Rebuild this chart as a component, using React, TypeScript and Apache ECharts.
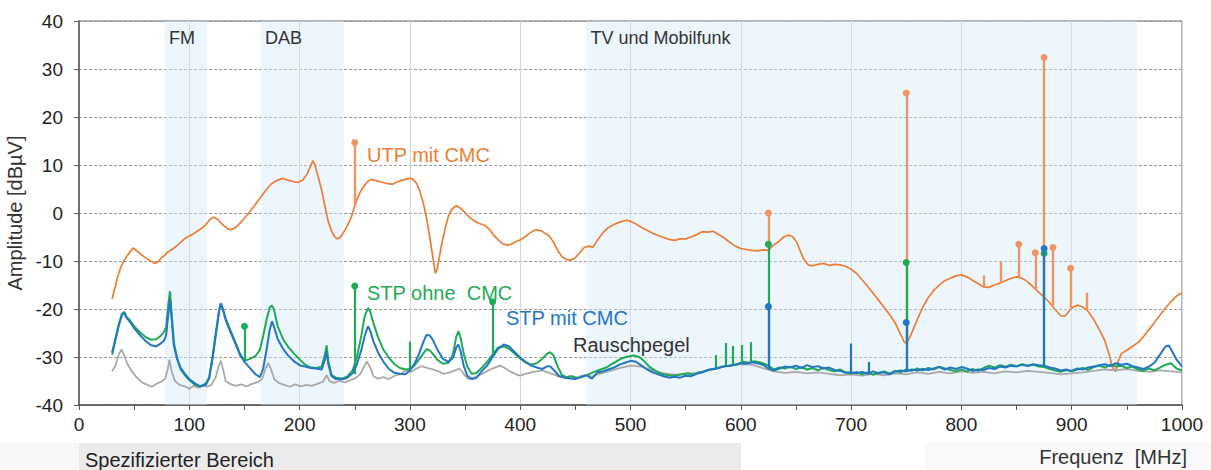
import React, { useEffect, useRef } from "react";
import * as echarts from "echarts";

// ---- Data (frequency MHz, amplitude dBµV) ----
const utpMitCmc: [number, number][] = [
  [30,-17.9],[33,-15.2],[35,-13.3],[38,-11.2],[40,-10.3],[43,-9.1],[46,-8.2],[49,-7.3],[52,-7.8],[55,-8.4],[60,-9.3],[65,-10.0],[69,-10.5],[72,-10.1],[75,-9.2],[78,-8.8],[80,-8.2],[85,-7.5],[90,-6.6],[95,-5.5],[99,-4.9],[104,-4.3],[110,-3.4],[115,-2.4],[119,-1.3],[122,-0.9],[125,-1.2],[130,-2.4],[135,-3.3],[138,-3.5],[142,-3.0],[146,-2.1],[150,-1.1],[155,0.3],[160,1.8],[165,3.4],[170,4.9],[174,6.0],[178,6.6],[182,7.0],[185,7.2],[190,6.8],[195,6.5],[199,6.4],[203,6.9],[207,8.2],[210,9.8],[212,10.9],[214,10.0],[217,7.4],[220,4.8],[223,1.4],[226,-1.8],[229,-3.8],[232,-5.0],[234,-5.4],[237,-5.0],[240,-4.0],[243,-2.8],[247,-0.8],[250,1.5],[253,3.4],[256,4.8],[259,5.8],[262,6.6],[265,7.0],[270,6.7],[275,6.4],[280,6.1],[284,6.0],[288,6.4],[292,6.8],[296,7.0],[300,7.2],[303,7.0],[306,6.2],[309,4.6],[312,2.2],[315,-1.0],[318,-5.0],[321,-9.5],[323,-12.6],[325,-11.5],[327,-8.8],[329,-6.3],[332,-3.2],[335,-0.6],[338,0.8],[342,1.5],[346,1.0],[350,0.1],[354,-0.9],[358,-1.6],[363,-2.2],[368,-2.6],[372,-3.4],[376,-4.6],[380,-5.6],[384,-6.4],[388,-6.7],[392,-6.5],[396,-6.0],[400,-5.6],[404,-5.0],[408,-4.3],[412,-3.7],[415,-3.5],[419,-3.7],[423,-4.3],[426,-4.7],[430,-6.0],[434,-7.8],[438,-9.1],[442,-9.7],[446,-9.8],[450,-9.3],[454,-8.3],[458,-7.2],[462,-6.9],[466,-7.1],[470,-5.7],[475,-4.1],[480,-3.0],[485,-2.4],[490,-1.9],[496,-1.5],[500,-1.7],[505,-2.3],[510,-3.0],[515,-3.6],[520,-4.2],[525,-4.7],[530,-5.1],[535,-5.5],[540,-5.7],[545,-5.4],[550,-5.4],[555,-5.0],[560,-4.5],[565,-3.9],[570,-4.0],[575,-3.8],[580,-4.5],[585,-5.2],[590,-6.1],[595,-6.9],[600,-7.4],[605,-7.6],[610,-7.8],[615,-7.9],[620,-7.7],[625,-7.8],[629,-6.8],[634,-6.0],[639,-5.0],[643,-4.6],[647,-4.9],[651,-6.2],[654,-8.0],[657,-9.6],[661,-10.8],[665,-11.0],[670,-10.7],[675,-10.5],[680,-10.9],[685,-10.7],[690,-10.8],[695,-11.1],[700,-11.7],[705,-12.6],[710,-13.9],[715,-15.3],[720,-16.7],[725,-18.2],[730,-19.7],[735,-21.2],[740,-22.9],[745,-25.4],[748,-26.8],[750,-27.2],[753,-26.0],[756,-24.4],[760,-22.2],[765,-19.6],[770,-17.6],[775,-16.1],[780,-15.0],[785,-14.1],[790,-13.6],[795,-13.1],[800,-12.9],[805,-13.3],[810,-14.0],[815,-14.7],[820,-15.4],[825,-15.5],[830,-15.0],[835,-14.6],[840,-14.1],[845,-13.6],[850,-13.3],[855,-13.6],[860,-14.3],[865,-15.4],[870,-16.5],[875,-17.5],[880,-18.7],[885,-20.1],[890,-21.4],[894,-21.5],[898,-20.3],[902,-19.5],[906,-19.2],[910,-19.6],[915,-20.5],[920,-22.2],[925,-24.3],[930,-26.6],[934,-29.5],[937,-32.2],[940,-33.0],[942,-31.0],[945,-29.3],[950,-28.6],[955,-27.8],[960,-27.0],[965,-25.8],[970,-24.3],[975,-22.8],[980,-21.3],[985,-19.8],[990,-18.5],[995,-17.3],[1000,-16.6]
];

const stpOhneCmc: [number, number][] = [
  [30,-29.0],[33,-26.2],[36,-23.2],[39,-21.0],[41,-20.6],[43,-21.6],[46,-22.3],[50,-23.6],[55,-24.8],[60,-25.8],[65,-26.4],[70,-26.3],[74,-25.6],[77,-24.8],[79,-23.8],[81,-19.0],[82.5,-16.3],[84,-21.0],[86,-27.0],[89,-30.2],[92,-32.5],[96,-33.8],[100,-34.8],[105,-35.8],[110,-36.2],[115,-35.5],[118,-34.2],[121,-30.0],[124,-25.0],[127,-20.3],[128.5,-18.9],[130,-19.6],[133,-22.0],[137,-24.3],[141,-26.5],[146,-29.3],[150,-30.8],[155,-30.4],[160,-29.8],[164,-28.5],[167,-25.6],[170,-22.3],[173,-19.6],[175,-19.3],[177,-20.3],[180,-23.5],[185,-26.3],[190,-28.0],[195,-29.3],[200,-30.5],[205,-31.6],[210,-32.2],[215,-32.3],[220,-32.0],[223,-29.5],[224.5,-27.6],[226,-30.8],[229,-33.8],[233,-34.3],[238,-34.5],[243,-34.1],[248,-32.8],[252,-30.0],[256,-25.5],[259,-21.5],[262,-19.8],[264,-20.5],[267,-23.0],[271,-25.8],[276,-28.5],[281,-30.2],[286,-31.5],[291,-32.3],[296,-32.6],[300,-32.5],[304,-31.8],[308,-30.6],[312,-29.3],[315,-28.4],[318,-28.6],[321,-29.4],[325,-30.6],[330,-31.4],[335,-31.2],[339,-29.5],[342,-25.8],[344,-24.6],[346,-26.0],[349,-29.5],[352,-32.0],[356,-33.5],[360,-33.4],[365,-32.3],[370,-31.0],[375,-29.5],[380,-28.0],[385,-27.8],[390,-28.3],[395,-29.3],[400,-30.3],[405,-31.2],[410,-31.6],[415,-31.3],[420,-30.4],[424,-29.4],[427,-29.0],[430,-29.6],[434,-32.0],[438,-33.8],[442,-34.2],[447,-34.0],[452,-34.4],[458,-34.0],[463,-33.5],[468,-33.0],[473,-32.6],[478,-32.2],[483,-31.5],[488,-30.8],[493,-30.2],[498,-29.9],[503,-29.7],[508,-30.0],[512,-30.8],[517,-32.0],[522,-32.8],[527,-33.4],[532,-33.7],[537,-33.9],[542,-33.8],[547,-33.6],[552,-33.4],[557,-33.7],[562,-33.2],[567,-33.0],[572,-32.6],[577,-32.5],[582,-32.1],[587,-31.9],[592,-31.7],[597,-31.5],[602,-31.0],[607,-31.2],[612,-30.9],[617,-31.1],[621,-31.4],[625,-31.8],[630,-32.6],[635,-32.2],[640,-32.4],[645,-32.0],[650,-32.5],[655,-32.1],[660,-32.6],[665,-32.3],[670,-32.8],[675,-32.2],[680,-32.7],[685,-33.0],[690,-32.6],[695,-33.2],[700,-33.5],[705,-33.1],[710,-33.6],[715,-33.2],[720,-33.7],[725,-33.3],[730,-33.0],[735,-33.4],[740,-32.9],[745,-33.2],[750,-32.6],[755,-32.9],[760,-32.4],[765,-32.8],[770,-32.3],[775,-32.6],[780,-32.0],[785,-32.4],[790,-32.7],[795,-33.0],[800,-32.6],[805,-33.0],[810,-32.5],[815,-32.9],[820,-32.3],[825,-31.8],[830,-32.2],[835,-31.7],[840,-32.0],[845,-31.6],[850,-31.9],[855,-31.5],[860,-31.8],[865,-31.6],[870,-32.0],[875,-32.1],[880,-32.5],[885,-32.8],[890,-33.1],[895,-32.7],[900,-33.0],[905,-32.6],[910,-32.3],[915,-32.7],[920,-32.1],[925,-31.8],[930,-32.2],[935,-31.6],[940,-32.0],[945,-31.8],[950,-32.3],[955,-32.0],[960,-32.6],[965,-32.9],[970,-32.4],[975,-32.8],[980,-32.2],[985,-31.6],[990,-31.3],[995,-32.4],[1000,-32.8]
];

const stpMitCmc: [number, number][] = [
  [30,-29.5],[33,-26.5],[36,-23.5],[39,-21.2],[41,-20.8],[43,-21.8],[46,-22.6],[50,-24.0],[55,-25.4],[60,-26.6],[65,-27.5],[70,-27.8],[74,-27.2],[77,-26.6],[79,-25.5],[81,-21.0],[82.5,-18.0],[84,-22.0],[86,-27.5],[89,-30.5],[92,-32.2],[96,-33.5],[100,-34.6],[105,-35.5],[110,-36.1],[115,-35.8],[118,-34.5],[121,-30.5],[124,-25.5],[127,-20.5],[128.5,-18.8],[130,-19.8],[133,-22.3],[137,-24.6],[141,-26.8],[146,-29.6],[150,-31.0],[155,-32.3],[160,-33.6],[164,-34.2],[167,-32.4],[170,-28.5],[173,-24.2],[175,-22.6],[177,-23.8],[180,-26.2],[185,-28.3],[190,-29.8],[195,-30.9],[200,-31.7],[205,-32.0],[210,-32.3],[215,-32.4],[220,-32.6],[223,-30.5],[224.5,-28.8],[226,-31.5],[229,-34.0],[233,-34.6],[238,-34.7],[243,-34.4],[248,-33.4],[252,-31.5],[256,-28.5],[259,-25.6],[262,-23.6],[264,-24.5],[267,-26.8],[271,-29.0],[276,-31.0],[281,-32.5],[286,-33.3],[291,-33.5],[296,-33.6],[300,-32.8],[304,-31.5],[308,-29.5],[312,-27.0],[315,-25.4],[318,-25.5],[321,-26.5],[325,-28.5],[330,-30.4],[335,-31.0],[339,-30.2],[342,-28.0],[344,-27.4],[346,-28.8],[349,-32.0],[352,-33.9],[356,-34.6],[360,-34.4],[365,-33.0],[370,-31.8],[375,-30.0],[380,-28.3],[385,-27.4],[390,-27.8],[395,-29.0],[400,-30.1],[405,-31.0],[410,-31.8],[415,-32.2],[420,-32.5],[424,-32.0],[427,-31.9],[430,-32.6],[435,-33.9],[440,-34.3],[445,-34.5],[450,-34.6],[455,-34.2],[460,-33.8],[465,-34.5],[470,-33.2],[475,-33.0],[480,-32.6],[485,-32.2],[490,-31.6],[495,-31.2],[500,-30.8],[505,-31.0],[510,-31.8],[515,-32.6],[520,-33.2],[525,-33.6],[530,-34.0],[535,-34.3],[540,-34.1],[545,-34.3],[550,-33.9],[555,-34.0],[560,-33.5],[565,-33.2],[570,-32.7],[575,-32.5],[580,-32.3],[585,-31.9],[590,-31.8],[595,-31.6],[600,-31.3],[605,-31.4],[610,-31.1],[615,-31.3],[620,-31.6],[625,-32.4],[630,-32.8],[635,-32.4],[640,-32.0],[645,-32.2],[650,-31.8],[655,-32.3],[660,-31.7],[665,-32.1],[670,-31.9],[675,-32.4],[680,-32.2],[685,-32.7],[690,-32.9],[695,-33.3],[700,-33.2],[705,-33.4],[710,-33.1],[715,-33.5],[720,-33.0],[725,-33.4],[730,-33.2],[735,-33.6],[740,-33.0],[745,-32.8],[750,-33.0],[755,-32.6],[760,-32.8],[765,-32.5],[770,-32.7],[775,-32.4],[780,-32.1],[785,-32.6],[790,-32.2],[795,-32.5],[800,-32.1],[805,-32.4],[810,-32.9],[815,-32.6],[820,-32.7],[825,-32.3],[830,-32.5],[835,-32.0],[840,-32.2],[845,-31.8],[850,-32.0],[855,-31.6],[860,-31.9],[865,-31.5],[870,-31.7],[875,-31.8],[880,-32.2],[885,-32.4],[890,-32.8],[895,-32.6],[900,-32.9],[905,-32.4],[910,-32.6],[915,-32.2],[920,-32.0],[925,-31.7],[930,-31.5],[935,-31.9],[940,-31.3],[945,-31.6],[950,-31.4],[955,-31.9],[960,-32.2],[965,-32.5],[970,-32.0],[975,-31.2],[980,-29.5],[985,-27.8],[988,-27.6],[991,-28.8],[995,-30.5],[1000,-32.0]
];

const rauschpegel: [number, number][] = [
  [30,-33.0],[33,-31.8],[36,-29.5],[38.5,-28.4],[41,-29.6],[44,-31.5],[48,-33.0],[52,-34.2],[57,-35.3],[62,-35.8],[66,-36.2],[70,-35.6],[74,-35.2],[78,-34.6],[80.5,-32.5],[82,-30.6],[84,-33.0],[87,-35.0],[91,-35.8],[96,-36.1],[100,-36.6],[104,-36.0],[108,-36.4],[112,-35.9],[116,-36.2],[120,-35.8],[124,-34.2],[126.5,-32.0],[128.5,-30.8],[130.5,-32.5],[133,-35.0],[137,-35.6],[142,-36.0],[147,-35.7],[152,-36.1],[157,-35.6],[162,-35.2],[166,-34.6],[169,-32.5],[171.5,-31.2],[174,-32.5],[177,-34.6],[181,-35.4],[186,-35.8],[191,-36.2],[196,-35.7],[201,-36.1],[206,-35.8],[211,-36.0],[216,-35.6],[221,-35.2],[224.5,-33.8],[227,-35.0],[231,-35.4],[236,-35.0],[241,-35.3],[246,-34.8],[251,-34.4],[255,-33.5],[258,-32.2],[261,-30.9],[264,-32.2],[267,-34.0],[271,-34.5],[276,-34.2],[281,-34.6],[286,-33.9],[291,-33.6],[296,-32.8],[301,-33.1],[306,-32.4],[311,-31.9],[316,-32.3],[321,-32.6],[326,-33.0],[331,-33.5],[336,-33.2],[341,-32.8],[345,-32.4],[349,-33.6],[353,-34.6],[358,-34.3],[363,-33.8],[368,-33.2],[373,-32.6],[378,-32.1],[382,-31.8],[386,-32.3],[391,-33.0],[396,-33.6],[400,-33.9],[405,-33.5],[410,-33.2],[415,-33.0],[420,-32.8],[425,-33.2],[430,-33.6],[435,-34.1],[440,-34.3],[445,-34.0],[450,-34.4],[455,-34.0],[460,-33.7],[465,-34.1],[470,-33.6],[480,-33.0],[490,-32.3],[500,-31.8],[510,-32.0],[520,-32.8],[530,-33.4],[540,-33.7],[550,-33.5],[560,-33.3],[570,-32.8],[580,-32.2],[590,-31.8],[600,-31.5],[610,-31.6],[620,-32.3],[630,-33.0],[640,-33.3],[650,-33.1],[660,-33.4],[670,-33.2],[680,-33.5],[690,-33.8],[700,-33.6],[710,-33.9],[720,-33.5],[730,-33.8],[740,-33.4],[750,-33.6],[760,-33.2],[770,-33.5],[780,-33.1],[790,-33.4],[800,-33.0],[810,-33.3],[820,-33.1],[830,-33.4],[840,-33.0],[850,-33.2],[860,-32.9],[870,-33.1],[880,-33.3],[890,-33.6],[900,-33.4],[910,-33.2],[920,-32.9],[930,-32.6],[940,-32.8],[950,-32.5],[960,-32.9],[970,-33.1],[980,-32.8],[990,-33.0],[1000,-33.2]
];

// Spikes: [frequency, base, top]
const utpSpikesDot: [number, number, number][] = [[250,1.5,14.7],[625,-7.8,0.0],[750,-27.2,25.0],[852,-13.4,-6.5],[867,-15.9,-8.3],[875,-17.5,32.4],[883,-19.5,-7.2],[899,-20.1,-11.5]];
const utpSpikesPlain: [number, number, number][] = [[820,-15.4,-13.0],[836,-14.5,-10.1],[914,-20.3,-16.6]];
const ohneSpikesDot: [number, number, number][] = [[150,-30.8,-23.6],[250,-33.6,-15.2],[375,-29.5,-18.5],[625,-31.8,-6.5],[750,-32.6,-10.3],[875,-32.1,-8.4]];
const ohneSpikesPlain: [number, number, number][] = [[300,-32.5,-26.8],[577,-32.4,-29.6],[586,-32.0,-27.1],[593,-31.7,-27.7],[601,-31.2,-27.5],[609,-31.0,-26.9]];
const mitSpikesDot: [number, number, number][] = [[625,-32.4,-19.5],[750,-33.0,-22.8],[875,-31.8,-7.4]];
const mitSpikesPlain: [number, number, number][] = [[700,-33.2,-27.2],[716,-33.4,-31.0]];

// Frequency bands
const bandNames = ["FM", "DAB", "TV und Mobilfunk"];
const bandStart = [78, 165, 460];
const bandEnd = [116, 240, 959];

const FONT = "'Liberation Sans', Arial, Helvetica, sans-serif";
const C_UTP = "#EC7E34";
const C_UTP_SPIKE = "#EE9660";
const C_OHNE = "#1FAA55";
const C_MIT = "#2276C4";
const C_RAUSCH = "#A9A9A9";

function spikeData(dot: [number, number, number][], plain: [number, number, number][]) {
  return [
    ...dot.map(([f, b, t]) => [
      { coord: [f, b], symbol: "none" },
      { coord: [f, t], symbol: "circle", symbolSize: 7 },
    ]),
    ...plain.map(([f, b, t]) => [
      { coord: [f, b], symbol: "none" },
      { coord: [f, t], symbol: "none" },
    ]),
  ];
}

function spikeMark(color: string, width: number, dot: [number, number, number][], plain: [number, number, number][]) {
  return {
    silent: true,
    animation: false,
    symbol: ["none", "circle"],
    symbolSize: 7,
    label: { show: false },
    emphasis: { disabled: true },
    itemStyle: { color },
    lineStyle: { color, width, type: "solid", opacity: 1 },
    data: spikeData(dot, plain),
  };
}

export default function App() {
  const ref = useRef<HTMLDivElement>(null);
  useEffect(() => {
    const chart = echarts.init(ref.current!, null, { renderer: "svg" });
    const textStyleBase = { fontFamily: FONT, verticalAlign: "middle", align: "left" };
    const option: any = {
      animation: false,
      textStyle: { fontFamily: FONT },
      grid: {
        left: 79, right: 29, top: 21, bottom: 65,
        containLabel: false, outerBoundsMode: "none",
        show: true, borderColor: "#6a6a6a", borderWidth: 1,
      },
      xAxis: {
        type: "value",
        min: 0,
        max: 1000,
        interval: 100,
        axisLine: { show: true, onZero: false, lineStyle: { color: "#555", width: 1.5 } },
        axisTick: { show: true, length: 5, lineStyle: { color: "#555" } },
        minorTick: { show: true, splitNumber: 2, length: 5, lineStyle: { color: "#555" } },
        axisLabel: { fontSize: 19, color: "#222", margin: 10, fontFamily: FONT, formatter: (v: number) => String(v) },
        splitLine: { show: true, lineStyle: { color: "#d4d4d4", width: 1 } },
      },
      yAxis: {
        type: "value",
        min: -40,
        max: 40,
        interval: 10,
        name: "Amplitude [dBµV]",
        nameLocation: "middle",
        nameRotate: 90,
        nameGap: 50,
        nameTextStyle: { fontSize: 20, color: "#333", fontFamily: FONT },
        axisLine: { show: true, onZero: false, lineStyle: { color: "#555", width: 1.5 } },
        axisTick: { show: true, length: 5, lineStyle: { color: "#555" } },
        axisLabel: { fontSize: 19, color: "#222", margin: 16, fontFamily: FONT },
        splitLine: { show: true, lineStyle: { color: "#9a9a9a", width: 1, type: [3, 2] } },
      },
      series: [
        {
          name: "UTP mit CMC",
          type: "line",
          data: utpMitCmc,
          showSymbol: false,
          color: C_UTP,
          lineStyle: { color: C_UTP, width: 1.7 },
          z: 2,
          markArea: {
            silent: true,
            itemStyle: { color: "rgba(212,231,250,0.42)" },
            label: { show: true, position: "insideTopLeft", color: "#333", fontSize: 18, fontFamily: FONT, offset: [-1, 3] },
            data: bandNames.map((n, i) => [
              { name: n, xAxis: bandStart[i] },
              { xAxis: bandEnd[i] },
            ]),
          },
          markLine: spikeMark(C_UTP_SPIKE, 2.4, utpSpikesDot, utpSpikesPlain),
        },
        {
          name: "Rauschpegel",
          type: "line",
          data: rauschpegel,
          showSymbol: false,
          color: C_RAUSCH,
          lineStyle: { color: C_RAUSCH, width: 1.8 },
          z: 3,
        },
        {
          name: "STP ohne CMC",
          type: "line",
          data: stpOhneCmc,
          showSymbol: false,
          color: C_OHNE,
          lineStyle: { color: C_OHNE, width: 2 },
          z: 4,
          markLine: spikeMark(C_OHNE, 2.2, ohneSpikesDot, ohneSpikesPlain),
        },
        {
          name: "STP mit CMC",
          type: "line",
          data: stpMitCmc,
          showSymbol: false,
          color: C_MIT,
          lineStyle: { color: C_MIT, width: 2 },
          z: 5,
          markLine: spikeMark(C_MIT, 2.2, mitSpikesDot, mitSpikesPlain),
        },
      ],
      graphic: [
        { type: "rect", z: -10, shape: { x: 0, y: 443, width: 79, height: 27 }, style: { fill: "#f7f7f7" } },
        { type: "rect", z: -10, shape: { x: 79, y: 443, width: 662, height: 27 }, style: { fill: "#ebebeb" } },
        { type: "rect", z: -10, shape: { x: 925, y: 443, width: 286, height: 27 }, style: { fill: "#f9f9f9" } },
        { type: "text", z: 100, x: 85, y: 460, style: { ...textStyleBase, text: "Spezifizierter Bereich", fill: "#222", fontSize: 20 } },
        { type: "text", z: 100, x: 1187, y: 457, style: { ...textStyleBase, text: "Frequenz  [MHz]", fill: "#333", fontSize: 20, align: "right" } },
        { type: "text", z: 100, x: 367, y: 155, style: { ...textStyleBase, text: "UTP mit CMC", fill: C_UTP, fontSize: 20 } },
        { type: "text", z: 100, x: 367, y: 293, style: { ...textStyleBase, text: "STP ohne  CMC", fill: C_OHNE, fontSize: 20 } },
        { type: "text", z: 100, x: 506, y: 318, style: { ...textStyleBase, text: "STP mit CMC", fill: C_MIT, fontSize: 20 } },
        { type: "text", z: 100, x: 573, y: 345, style: { ...textStyleBase, text: "Rauschpegel", fill: "#333", fontSize: 20 } },
      ],
    };
    chart.setOption(option);
    return () => chart.dispose();
  }, []);
  return (
    <div
      ref={ref}
      style={{ position: "absolute", left: 0, top: 0, width: 1211, height: 470, background: "#fff" }}
    />
  );
}
